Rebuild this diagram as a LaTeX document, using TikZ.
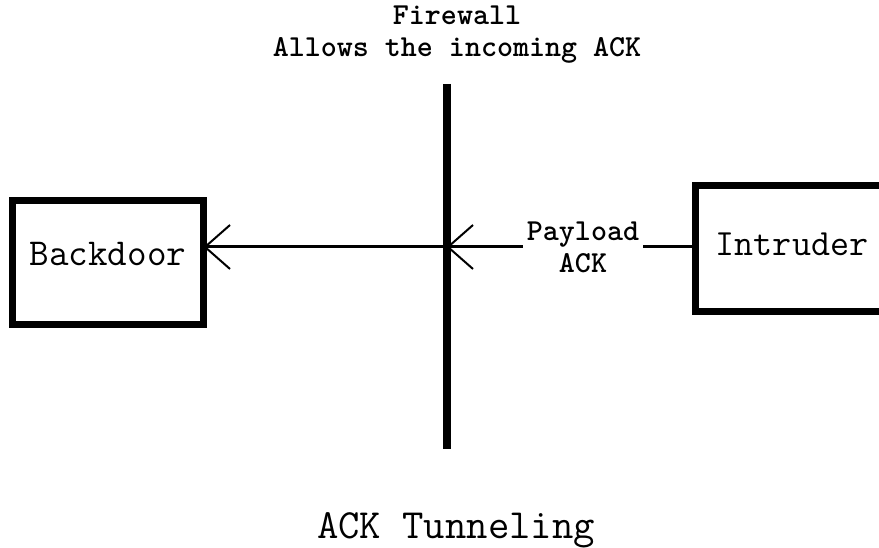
\documentclass[tikz,border=0pt]{standalone}
\usepackage{xcolor}
\usepackage{tikz}
\usetikzlibrary{arrows.meta, positioning}

\tikzset{
  hostbox/.style={draw, line width=7pt, outer sep=0pt, inner sep=0pt,
    minimum width=191pt, minimum height=124.5pt,
    font=\ttfamily\fontsize{38}{38}\selectfont},
  smalltext/.style={font=\ttfamily\bfseries\fontsize{30.5}{32}\selectfont,
    align=center, inner sep=0pt},
  flow/.style={line width=3pt,
    -{Straight Barb[length=25pt, width=44pt, line width=2pt]}},
}

\begin{document}
\begin{tikzpicture}[x=1pt, y=-1pt]
  \clip (0,0) rectangle (879,548);
  \fill[white] (0,0) rectangle (879,548);
  % the two hosts
  \node[hostbox, text depth=18.7pt] (backdoor) at (108,262.75) {Backdoor};
  \node[hostbox, minimum width=193pt, minimum height=126pt, text depth=9.6pt,
    font=\ttfamily\fontsize{37}{37}\selectfont] (intruder) at (792,248.5) {Intruder};
  % firewall
  \coordinate (fwtop) at (446.5,84);
  \coordinate (fwbot) at (446.5,449);
  \coordinate (fwhit) at (446.5,247);
  \draw[line width=8pt] (fwtop) -- (fwbot);
  \node[smalltext] (fwlabel) at (457,35) {Firewall\\Allows the incoming ACK};
  % packet path
  \node[smalltext, inner xsep=4pt] (payload) at (583,247) {Payload\\ACK};
  \draw[line width=3pt] (payload.east) -- (payload.east -| intruder.west);
  \draw[flow] (payload.west) -- (fwhit);
  \draw[flow] (fwhit) -- (fwhit -| backdoor.east);
  \node[font=\ttfamily\fontsize{41.5}{41.5}\selectfont] (title) at (456,530) {ACK Tunneling};
\end{tikzpicture}
\end{document}
